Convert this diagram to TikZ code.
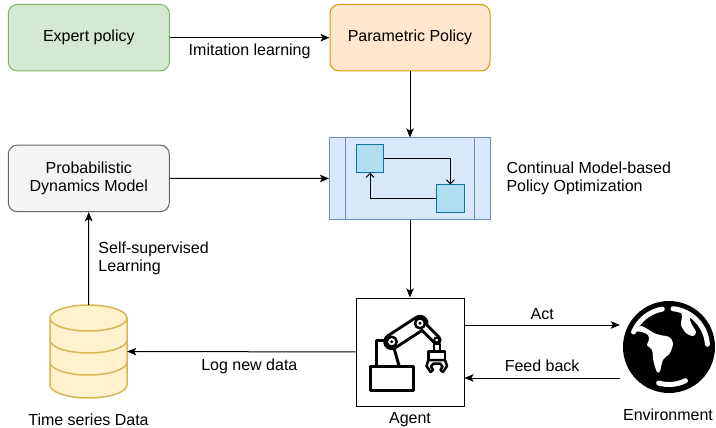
\documentclass[tikz,border=0pt]{standalone}
\usepackage{fontspec}
\setmainfont{Liberation Sans}
\usepackage{tikz}
\usetikzlibrary{arrows.meta}

\definecolor{expertfill}{HTML}{D5E8D4}
\definecolor{expertline}{HTML}{82B366}
\definecolor{paramfill}{HTML}{FFE6CC}
\definecolor{paramline}{HTML}{D79B00}
\definecolor{modelfill}{HTML}{F5F5F5}
\definecolor{modelline}{HTML}{666666}
\definecolor{optfill}{HTML}{DAE8FC}
\definecolor{optline}{HTML}{6C8EBF}
\definecolor{stepfill}{HTML}{B1DDF0}
\definecolor{stepline}{HTML}{10739E}
\definecolor{dbfill}{HTML}{FFF2CC}
\definecolor{dbline}{HTML}{D6B656}

\begin{document}
\begin{tikzpicture}[x=1pt, y=-1pt, font=\fontsize{16}{18.5}\selectfont,
    box/.style={draw, line width=1pt, rounded corners=9pt, minimum width=161pt, minimum height=66.5pt, align=center, inner sep=0pt},
    stepbox/.style={draw=stepline, fill=stepfill, line width=1pt, minimum size=27.5pt, inner sep=0pt},
    arr/.style={line width=1pt, -{Stealth[length=9pt, width=7.5pt, inset=2pt]}},
    barb/.style={line width=1pt, -{Straight Barb[length=4pt, width=8pt]}},
    icon/.style={line width=2.5pt, line join=round},
    land/.style={white, line width=5pt, line cap=round}]
    \useasboundingbox (0, 0) rectangle (716, 428);

    \node[box, fill=expertfill, draw=expertline] (expert) at (88.8, 37.7) {Expert policy};
    \node[box, fill=paramfill, draw=paramline, minimum width=160pt] (param) at (410, 37.7) {Parametric Policy};
    \node[box, fill=modelfill, draw=modelline] (model) at (88.8, 178.4) {Probabilistic\\Dynamics Model};

    \node[draw=optline, fill=optfill, line width=1pt, minimum width=161pt, minimum height=81pt] (opt) at (410, 178.5) {};
    \draw[optline, line width=1pt] ([xshift=16.5pt]opt.north west) -- ([xshift=16.5pt]opt.south west);
    \draw[optline, line width=1pt] ([xshift=-16.5pt]opt.north east) -- ([xshift=-16.5pt]opt.south east);
    \node[stepbox] (step1) at (370, 158.5) {};
    \node[stepbox] (step2) at (450.3, 198.7) {};
    \draw[barb] (step1.east) -| (step2.north);
    \draw[barb] (step2.west) -| (step1.south);
    \node[anchor=west, align=left] (optlabel) at (503, 178.5) {Continual Model-based\\Policy Optimization};

    % data store
    \node[minimum width=77pt, minimum height=93pt, inner sep=0pt] (db) at (88.5, 351.5) {};
    \draw[dbline, fill=dbfill, line width=1.5pt] (50, 318) -- (50, 385)
        arc[start angle=180, end angle=0, x radius=38.5, y radius=13] -- (127, 318)
        arc[start angle=0, end angle=-180, x radius=38.5, y radius=13] -- cycle;
    \foreach \y in {318, 340, 362}
        \draw[dbline, line width=1.5pt] (50, \y) arc[start angle=180, end angle=0, x radius=38.5, y radius=13];
    \node (dblabel) at (88.5, 420) {Time series Data};

    % agent
    \node[draw, line width=1pt, minimum width=108pt, minimum height=108pt] (agent) at (410, 352) {};
    \node (agentlabel) at (410, 420) {Agent};
    \begin{scope}[shift={(agent.center)}]
        \draw[icon, line width=3pt, fill=white] (-39.3, 14.7) rectangle (3.3, 38.7);
        \draw[icon, line width=3pt] (-10.7, 14.7) -- (-16, -4);
        \draw[icon, line width=3pt] (-33.3, 14.7) -- (-33.3, -12) -- (-25, -12);
        \draw[line width=17pt, line cap=round] (-18.3, -10.3) -- (10, -28.7);
        \draw[line width=10pt, line cap=round] (10, -28.7) -- (26.7, -12);
        \draw[white, line width=11pt, line cap=round] (-18.3, -10.3) -- (10, -28.7);
        \draw[white, line width=4pt, line cap=round] (10, -28.7) -- (26.7, -12);
        \foreach \p in {(-18.3, -10.3), (10, -28.7)} {
            \draw[icon, fill=white] \p circle[radius=5];
            \fill \p circle[radius=1.6];
        }
        \draw[icon, line width=2pt, fill=white] (23.5, -8.5) rectangle (29.9, -0.3);
        \draw[icon, line width=2pt, fill=white] (26.7, -12) circle[radius=2.5];
        \draw[icon, fill=white] (18.3, -0.3) rectangle (35, 8);
        \draw[icon, fill=white] (18.3, 8) -- (16.5, 14) -- (20.5, 20) -- (23, 18) -- (21, 14.5) -- (23.5, 11.5)
            -- (30, 11.5) -- (32.5, 14.5) -- (30.5, 18) -- (33, 20) -- (37, 14) -- (35, 8) -- cycle;
    \end{scope}

    % environment
    \node[minimum width=98pt, minimum height=92pt, inner sep=0pt] (env) at (669, 347) {};
    \begin{scope}[shift={(env.center)}]
        \fill (0, 0) circle[radius=46];
        \draw[land] (-100:38.5) arc[start angle=-100, end angle=-157, radius=38.5];
        \draw[land] (-84:38.5) arc[start angle=-84, end angle=-4, radius=38.5];
        \draw[land] (64:37.5) arc[start angle=64, end angle=106, radius=37.5];
        \fill[white] plot[smooth cycle] coordinates {(-35, -16) (-27, -15) (-21, -12) (-20, -7) (-22, -2) (-17, 3)
            (-15.5, 14) (-12, 25) (-9, 24) (-6, 13) (1, 6) (4, -4) (0, -10) (-9, -12) (-15, -14) (-20, -17) (-28, -21)};
        \fill[white] plot[smooth cycle] coordinates {(12, -38) (13, -30) (12, -22) (17, -14) (24, -11) (27, -15)
            (22, -24) (19, -34)};
    \end{scope}
    \node (envlabel) at (668, 415) {Environment};

    \draw[arr] (expert) -- (param) node[midway, yshift=-14pt] {Imitation learning};
    \draw[arr] (param) -- (opt);
    \draw[arr] (model) -- (opt);
    \draw[arr] (opt) -- (agent);
    \draw[arr] (db) -- (model) node[midway, anchor=west, align=left, xshift=6pt] {Self-supervised\\Learning};
    \draw[arr] (agent) -- (db) node[midway, yshift=-15pt, xshift=8pt] {Log new data};
    \coordinate (actfrom) at ([yshift=27pt]agent.east);
    \coordinate (feedto) at ([yshift=-26pt]agent.east);
    \draw[arr] (actfrom) -- (actfrom -| env.west) node[midway, yshift=11pt] {Act};
    \draw[arr] (feedto -| env.west) -- (feedto) node[midway, yshift=12pt] {Feed back};
\end{tikzpicture}
\end{document}
